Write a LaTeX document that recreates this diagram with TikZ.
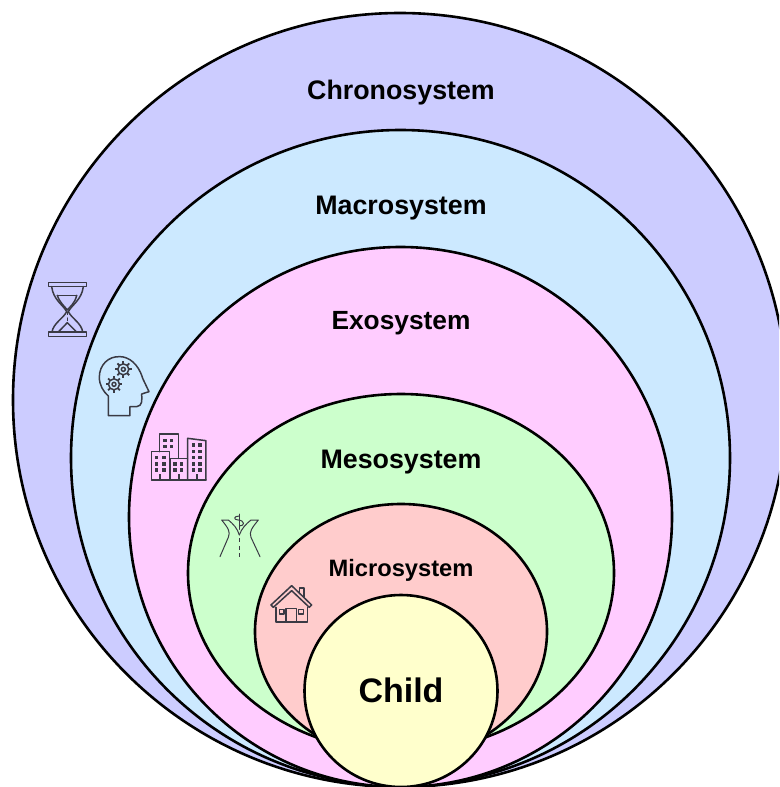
\documentclass[tikz,border=0pt]{standalone}
\usepackage{fontspec}
\setmainfont{Liberation Sans}
\definecolor{chrono}{HTML}{CCCCFF}
\definecolor{macro}{HTML}{CCE9FF}
\definecolor{exo}{HTML}{FFCCFF}
\definecolor{meso}{HTML}{CCFFCC}
\definecolor{micro}{HTML}{FFCCCC}
\definecolor{childc}{HTML}{FFFFCC}
\definecolor{icon}{HTML}{3A3A44}
\tikzset{
  ring/.style={draw=black,line width=2.6pt},
  lab/.style={font=\bfseries\fontsize{26.8}{30}\selectfont,text=black,inner sep=0pt,anchor=base},
  ic/.style={draw=icon,line width=1.5pt,line join=round,line cap=round},
  icz/.style={x=0.3333pt,y=-0.3333pt}
}
\begin{document}
\begin{tikzpicture}[x=1pt,y=-1pt]
\useasboundingbox (0,0) rectangle (779,787);
\clip (0,0) rectangle (779,787);
\fill[white] (0,0) rectangle (779,787);
\draw[ring,fill=chrono] (400,400) ellipse [x radius=387,y radius=387];
\draw[ring,fill=macro] (400.5,458) ellipse [x radius=329.5,y radius=328];
\draw[ring,fill=exo] (400.5,517) ellipse [x radius=271.5,y radius=270];
\draw[ring,fill=meso] (401,573) ellipse [x radius=213,y radius=179];
\draw[ring,fill=micro] (401,631.5) ellipse [x radius=146,y radius=127.5];
\draw[ring,fill=childc] (401,691) ellipse [x radius=96.5,y radius=96];
\node[lab] (chronol) at (401,99) {Chronosystem};
\node[lab] (macrol) at (401,214) {Macrosystem};
\node[lab,font=\bfseries\fontsize{26.3}{30}\selectfont] (exol) at (401,329) {Exosystem};
\node[lab] (mesol) at (401,468) {Mesosystem};
\node[lab,font=\bfseries\fontsize{23.7}{27}\selectfont] (microl) at (401,576) {Microsystem};
\node[lab,font=\bfseries\fontsize{34}{38}\selectfont] (childl) at (401,702) {Child};
% hourglass
\begin{scope}[shift={(30,270)},icz]
\draw[ic] (55,38) rectangle (170,50);
\draw[ic] (55,186) rectangle (170,200);
\draw[ic] (65,50) .. controls (70,90) and (100,105) .. (110,125) .. controls (100,145) and (70,160) .. (66,186);
\draw[ic] (160,50) .. controls (155,90) and (125,105) .. (115,125) .. controls (125,145) and (155,160) .. (158,186);
\draw[ic] (82,76) -- (140,76);
\draw[ic] (82,76) .. controls (90,100) and (105,110) .. (112,120) .. controls (120,110) and (135,100) .. (140,76);
\draw[ic] (85,186) -- (112,158) -- (140,186);
\draw[ic,line width=.5pt,dashed] (112,125) -- (112,158);
\end{scope}
% head with gears
\begin{scope}[shift={(30,270)},icz]
\draw[ic] (235,437) -- (300,437) -- (300,410) -- (320,410) .. controls (338,408) and (336,390) .. (335,372) -- (357,365) -- (338,325) .. controls (325,280) and (295,260) .. (270,260) .. controls (235,258) and (208,285) .. (208,322) .. controls (208,345) and (220,365) .. (235,378) -- cycle;
\foreach \cx/\cy in {280/298,252/343}{
  \draw[ic] (\cx,\cy) circle [radius=5.5pt];
  \draw[ic] (\cx,\cy) circle [radius=2pt];
  \foreach \a in {0,45,...,315}
    \draw[ic,line width=1.8pt,line cap=butt] ([shift={(\a:17)}]\cx,\cy) -- ([shift={(\a:25)}]\cx,\cy);
}
\end{scope}
% buildings
\begin{scope}[shift={(30,270)},icz]
\draw[ic] (365,630) -- (365,545) -- (418,545) -- (418,630);
\draw[ic] (388,545) -- (388,492) -- (445,492) -- (445,565);
\draw[ic] (422,630) -- (422,565) -- (472,565);
\draw[ic] (473,630) -- (473,505) -- (528,512) -- (528,630);
\draw[ic] (365,630) -- (528,630);
\foreach \p/\q in {405/512,425/512,405/530,425/530,
  380/563,402/563,380/582,402/582,380/600,402/600,
  435/582,455/582,435/600,455/600,
  490/525,510/525,490/545,510/545,490/563,510/563,490/582,510/582,490/600,510/600}
  \fill[icon] (\p-5,\q-5) rectangle (\p+5,\q+5);
\foreach \p in {391,446,500}
  \fill[icon] (\p-3,613) rectangle (\p+3,630);
\end{scope}
% forked road
\begin{scope}[shift={(200,500)},icz]
\draw[ic,line width=1pt] (60,170) -- (85,112) .. controls (92,95) and (85,85) .. (65,60) -- (85,60) .. controls (100,72) and (112,85) .. (118,105);
\draw[ic,line width=1pt] (180,170) -- (153,112) .. controls (147,95) and (155,85) .. (175,60) -- (153,60) .. controls (138,72) and (125,85) .. (118,105);
\draw[ic,line width=1pt,line cap=butt,dash pattern=on 4pt off 3.5pt] (118,115) -- (118,172);
\draw[ic,line width=1pt] (118,42) -- (118,88);
\draw[ic,line width=1pt] (118,48) .. controls (100,48) and (100,60) .. (115,60) .. controls (135,62) and (135,78) .. (118,78);
\end{scope}
% house
\begin{scope}[shift={(200,500)},icz]
\draw[ic] (213,315) -- (275,257) -- (335,315) -- (328,322) -- (275,272) -- (220,322) -- cycle;
\draw[ic] (228,322) -- (228,366) -- (322,366) -- (322,322);
\draw[ic] (258,366) -- (258,325) -- (290,325) -- (290,366);
\draw[ic] (238,328) rectangle (252,342);
\draw[ic] (296,328) rectangle (311,342);
\draw[ic] (298,278) -- (298,264) -- (312,264) -- (312,292);
\end{scope}
\end{tikzpicture}
\end{document}
